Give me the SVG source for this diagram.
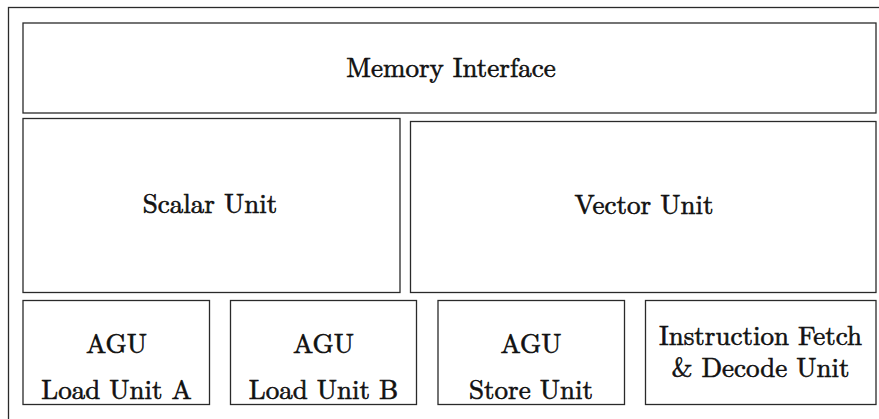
<svg xmlns="http://www.w3.org/2000/svg" width="879" height="419" viewBox="0 0 879 419">
  <style>
    .box { fill: #ffffff; stroke: #2a2a2a; stroke-width: 1.3; }
    .frame { fill: none; stroke: #2a2a2a; stroke-width: 1.3; }
    text { font-family: 'Latin Modern Roman', 'CMU Serif', 'Liberation Serif', serif; font-size: 27px; fill: #111111; stroke: #111111; stroke-width: 0.6; text-anchor: middle; }
  </style>
  <rect width="879" height="419" fill="#ffffff"/>
  <!-- enclosing frame, running off the right and bottom edges -->
  <rect class="frame" x="8.5" y="7.5" width="890" height="430"/>

  <g id="memory-interface">
    <rect class="box" x="23" y="23" width="853" height="90"/>
    <text x="451" y="77">Memory Interface</text>
  </g>

  <g id="scalar-unit">
    <rect class="box" x="23" y="118.5" width="377" height="174"/>
    <text x="210" y="213">Scalar Unit</text>
  </g>

  <g id="vector-unit">
    <rect class="box" x="410.5" y="121.5" width="465.5" height="171"/>
    <text x="644" y="214">Vector Unit</text>
  </g>

  <g id="agu-load-a">
    <rect class="box" x="23" y="300.5" width="186.5" height="104"/>
    <text x="116.5" y="353">AGU</text>
    <text x="116.5" y="399">Load Unit A</text>
  </g>

  <g id="agu-load-b">
    <rect class="box" x="230.5" y="300.5" width="186" height="104"/>
    <text x="323.5" y="353">AGU</text>
    <text x="323.5" y="399">Load Unit B</text>
  </g>

  <g id="agu-store">
    <rect class="box" x="438" y="300.5" width="186.5" height="104"/>
    <text x="531" y="353">AGU</text>
    <text x="531" y="399">Store Unit</text>
  </g>

  <g id="fetch-decode">
    <rect class="box" x="645.5" y="300.5" width="230.5" height="104"/>
    <text x="760.5" y="345">Instruction Fetch</text>
    <text x="760.5" y="377">&amp; Decode Unit</text>
  </g>

  <g id="connectors"/>
</svg>
